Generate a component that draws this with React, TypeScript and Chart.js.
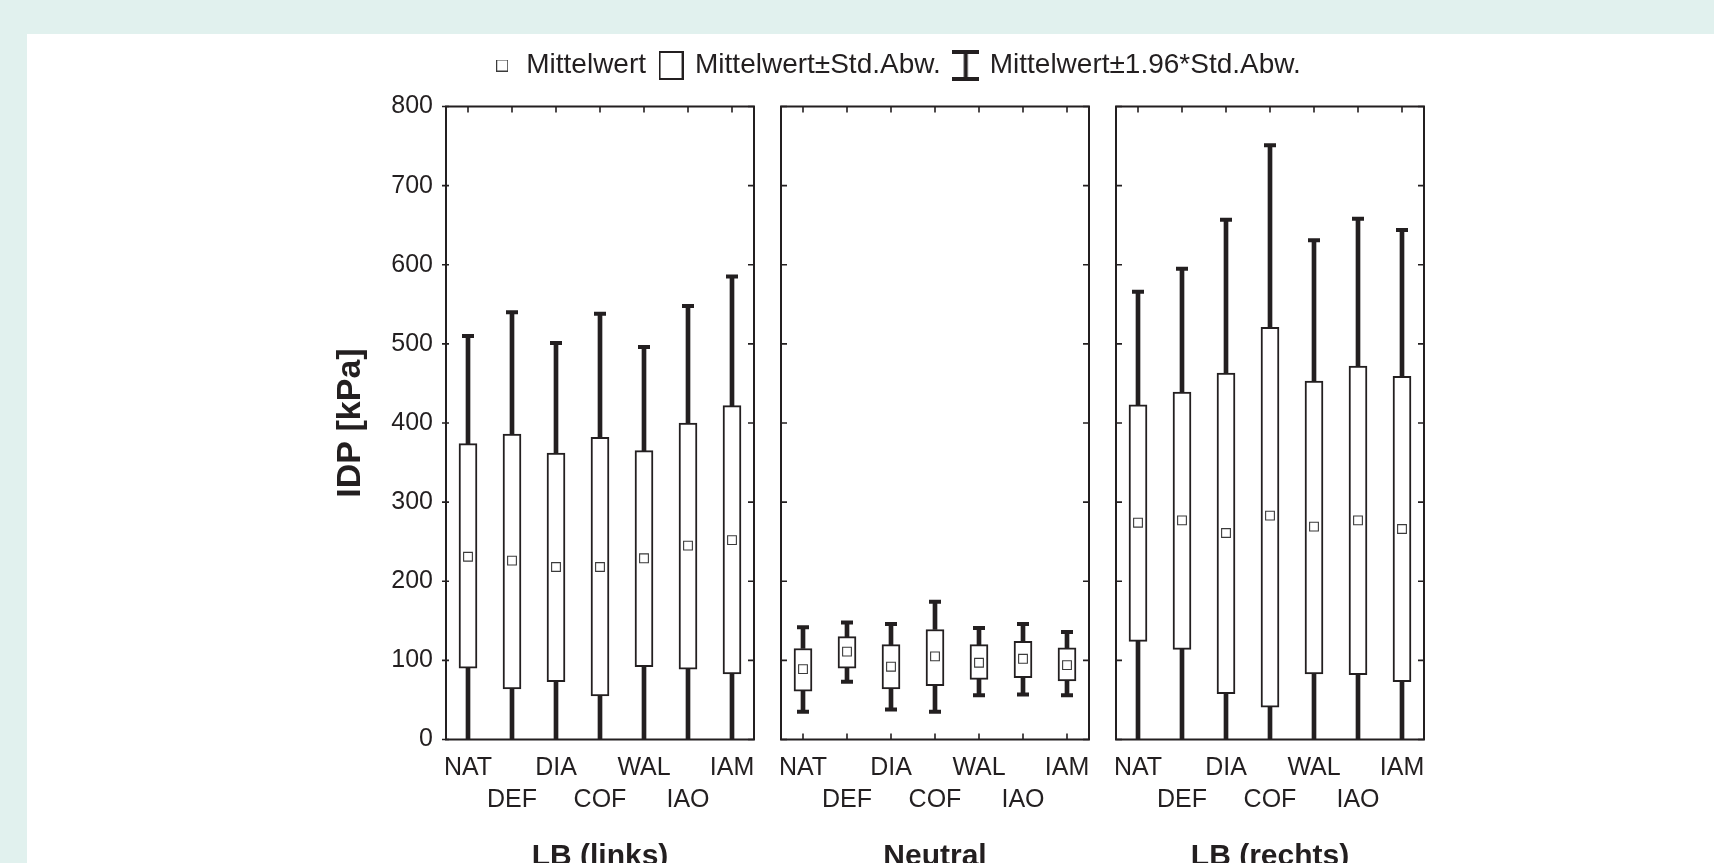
import React, { useEffect, useRef } from 'react';
import { Chart, registerables } from 'chart.js';

Chart.register(...registerables);

const FONT = "'Liberation Sans', Arial, Helvetica, sans-serif";
const INK = '#231f20';
const MEAN_EDGE = '#3a3a3a';

// ---- data ----
const categories = ['NAT', 'DEF', 'DIA', 'COF', 'WAL', 'IAO', 'IAM'];
const panelTitles = ['LB (links)', 'Neutral', 'LB (rechts)'];
const legendTexts = ['Mittelwert', 'Mittelwert±Std.Abw.', 'Mittelwert±1.96*Std.Abw.'];
const yTitle = 'IDP [kPa]';
const yMin = 0;
const yMax = 800;
const yStep = 100;

const leftMean = [231, 226, 218, 218, 229, 245, 252];
const leftSdLow = [90, 64, 73, 55, 92, 89, 83];
const leftSdHigh = [374, 386, 362, 382, 365, 400, 422];
const leftCiLow = [-47, -88, -65, -103, -39, -58, -80];
const leftCiHigh = [510, 540, 501, 538, 496, 548, 585];

const neutralMean = [89, 111, 92, 105, 97, 102, 94];
const neutralSdLow = [61, 90, 64, 68, 76, 78, 74];
const neutralSdHigh = [115, 130, 120, 139, 120, 124, 116];
const neutralCiLow = [35, 73, 38, 35, 56, 57, 56];
const neutralCiHigh = [142, 148, 146, 174, 141, 146, 136];

const rightMean = [274, 277, 261, 283, 269, 277, 266];
const rightSdLow = [124, 114, 58, 41, 83, 82, 73];
const rightSdHigh = [423, 439, 463, 521, 453, 472, 459];
const rightCiLow = [-17, -41, -136, -186, -93, -104, -112];
const rightCiHigh = [566, 595, 657, 751, 631, 658, 644];

const panelData = [
  { axis: 'x1', mean: leftMean, sdLow: leftSdLow, sdHigh: leftSdHigh, ciLow: leftCiLow, ciHigh: leftCiHigh },
  { axis: 'x2', mean: neutralMean, sdLow: neutralSdLow, sdHigh: neutralSdHigh, ciLow: neutralCiLow, ciHigh: neutralCiHigh },
  { axis: 'x3', mean: rightMean, sdLow: rightSdLow, sdHigh: rightSdHigh, ciLow: rightCiLow, ciHigh: rightCiHigh },
];

function makeIcon(w: number, h: number, draw: (g: CanvasRenderingContext2D) => void) {
  const c = document.createElement('canvas');
  c.width = w;
  c.height = h;
  const g = c.getContext('2d') as CanvasRenderingContext2D;
  draw(g);
  return c;
}

const panelFrame = {
  id: 'panelFrame',
  afterDatasetsDraw(chart: any) {
    const { ctx, chartArea } = chart;
    const ys = chart.scales.y;
    const t = chartArea.top;
    const b = chartArea.bottom;
    ctx.save();
    ctx.strokeStyle = INK;
    ['x1', 'x2', 'x3'].forEach((id, p) => {
      const s = chart.scales[id];
      const l = s.left;
      const r = s.right;
      ctx.lineWidth = 1.6;
      ctx.beginPath();
      ys.ticks.forEach((tk: any) => {
        const py = ys.getPixelForValue(tk.value);
        if (p === 0) {
          ctx.moveTo(l - 4, py);
          ctx.lineTo(l + 3, py);
        } else {
          ctx.moveTo(l, py);
          ctx.lineTo(l + 6, py);
        }
        ctx.moveTo(r - 6, py);
        ctx.lineTo(r, py);
      });
      s.ticks.forEach((_: any, i: number) => {
        const px = s.getPixelForTick(i);
        ctx.moveTo(px, t);
        ctx.lineTo(px, t + 6);
        ctx.moveTo(px, b - 6);
        ctx.lineTo(px, b);
      });
      ctx.stroke();
      ctx.lineWidth = 2;
      ctx.strokeRect(l, t, r - l, b - t);
    });
    ctx.restore();
  },
};

export default function App() {
  const ref = useRef<HTMLCanvasElement>(null);

  useEffect(() => {
    if (!ref.current) return;

    const iconMean = makeIcon(12, 12, (g) => {
      g.fillStyle = '#fff';
      g.fillRect(0, 0, 12, 12);
      g.strokeStyle = MEAN_EDGE;
      g.lineWidth = 1;
      g.strokeRect(0.5, 0.5, 11, 11);
    });
    const iconBox = makeIcon(25, 29, (g) => {
      g.fillStyle = '#fff';
      g.fillRect(0, 0, 25, 29);
      g.strokeStyle = INK;
      g.lineWidth = 2;
      g.strokeRect(1, 1, 23, 27);
    });
    const iconWhisker = makeIcon(27, 31, (g) => {
      g.fillStyle = INK;
      g.fillRect(0, 0, 27, 4);
      g.fillRect(0, 27, 27, 4);
      g.fillRect(11.5, 0, 4, 31);
    });

    const datasets: any[] = [];
    panelData.forEach((pd) => {
      datasets.push({
        type: 'line',
        label: 'mean ' + pd.axis,
        data: pd.mean,
        xAxisID: pd.axis,
        yAxisID: 'y',
        showLine: false,
        pointStyle: 'rect',
        pointRadius: 6.2,
        pointBorderWidth: 1.1,
        pointBorderColor: MEAN_EDGE,
        pointBackgroundColor: '#fff',
        order: 0,
        clip: 0,
      });
      datasets.push({
        type: 'line',
        label: 'cap high ' + pd.axis,
        data: pd.ciHigh,
        xAxisID: pd.axis,
        yAxisID: 'y',
        showLine: false,
        pointStyle: 'line',
        pointRadius: 6,
        pointBorderWidth: 4,
        pointBorderColor: INK,
        order: 1,
        clip: 0,
      });
      datasets.push({
        type: 'line',
        label: 'cap low ' + pd.axis,
        data: pd.ciLow,
        xAxisID: pd.axis,
        yAxisID: 'y',
        showLine: false,
        pointStyle: 'line',
        pointRadius: 6,
        pointBorderWidth: 4,
        pointBorderColor: INK,
        order: 1,
        clip: 0,
      });
      datasets.push({
        type: 'bar',
        label: 'sd ' + pd.axis,
        data: categories.map((_, i) => [pd.sdLow[i], pd.sdHigh[i]]),
        xAxisID: pd.axis,
        yAxisID: 'y',
        grouped: false,
        barThickness: 18,
        backgroundColor: '#fff',
        borderColor: INK,
        borderWidth: 2,
        borderSkipped: false,
        order: 2,
        clip: 0,
      });
      datasets.push({
        type: 'bar',
        label: 'ci low ' + pd.axis,
        data: categories.map((_, i) => [pd.ciLow[i], pd.sdLow[i]]),
        xAxisID: pd.axis,
        yAxisID: 'y',
        grouped: false,
        barThickness: 4,
        backgroundColor: INK,
        borderWidth: 0,
        order: 3,
        clip: 0,
      });
      datasets.push({
        type: 'bar',
        label: 'ci high ' + pd.axis,
        data: categories.map((_, i) => [pd.sdHigh[i], pd.ciHigh[i]]),
        xAxisID: pd.axis,
        yAxisID: 'y',
        grouped: false,
        barThickness: 4,
        backgroundColor: INK,
        borderWidth: 0,
        order: 3,
        clip: 0,
      });
    });

    const catAxis = (p: number) => ({
      type: 'category',
      axis: 'x',
      position: 'bottom',
      stack: 'panels',
      stackWeight: 308,
      offset: true,
      labels: categories,
      grid: { display: false, drawTicks: false, offset: true },
      border: { display: false },
      ticks: {
        autoSkip: false,
        maxRotation: 0,
        minRotation: 0,
        padding: 12.5,
        color: INK,
        font: { family: FONT, size: 25, lineHeight: 1.27 },
        callback: (_v: any, i: number) => (i % 2 ? ['', categories[i]] : categories[i]),
      },
      title: {
        display: true,
        text: panelTitles[p],
        color: INK,
        font: { family: FONT, size: 30, weight: 'bold', lineHeight: 1.2 },
        padding: { top: 11, bottom: 0 },
      },
    });
    const gapAxis = () => ({
      type: 'linear',
      axis: 'x',
      position: 'bottom',
      stack: 'panels',
      stackWeight: 27,
      display: true,
      ticks: { display: false },
      grid: { display: false, drawTicks: false },
      border: { display: false },
      title: { display: false },
    });

    const chart = new Chart(ref.current, {
      type: 'bar',
      data: { labels: categories, datasets },
      plugins: [panelFrame],
      options: {
        responsive: false,
        devicePixelRatio: 1,
        animation: false,
        events: [],
        layout: { autoPadding: false, padding: { top: 36.5, left: 330, right: 251, bottom: 5 } },
        plugins: {
          tooltip: { enabled: false },
          legend: {
            display: true,
            position: 'top',
            align: 'center',
            labels: {
              usePointStyle: true,
              pointStyleWidth: 20,
              padding: 15,
              color: INK,
              font: { family: FONT, size: 28 },
              generateLabels: () => [
                { text: legendTexts[0], pointStyle: iconMean, fontColor: INK, hidden: false, datasetIndex: 0, lineWidth: 0 },
                { text: legendTexts[1], pointStyle: iconBox, fontColor: INK, hidden: false, datasetIndex: 3, lineWidth: 0 },
                { text: legendTexts[2], pointStyle: iconWhisker, fontColor: INK, hidden: false, datasetIndex: 5, lineWidth: 0 },
              ],
            },
          },
        },
        scales: {
          y: {
            type: 'linear',
            position: 'left',
            min: yMin,
            max: yMax,
            ticks: { stepSize: yStep, padding: 13, color: INK, font: { family: FONT, size: 25 } },
            grid: { display: false, drawTicks: false },
            border: { display: false },
            title: {
              display: true,
              text: yTitle,
              color: INK,
              font: { family: FONT, size: 34, weight: 'bold', lineHeight: 1.2 },
              padding: 0,
            },
            afterFit: (s: any) => {
              s.width = 116;
            },
          },
          yr: {
            type: 'linear',
            axis: 'y',
            position: 'right',
            display: true,
            ticks: { display: false },
            grid: { display: false, drawTicks: false },
            border: { display: false },
            afterFit: (s: any) => {
              s.width = 39;
            },
          },
          xt: {
            type: 'linear',
            axis: 'x',
            position: 'top',
            display: true,
            ticks: { display: false },
            grid: { display: false, drawTicks: false },
            border: { display: false },
            afterFit: (s: any) => {
              s.height = 17;
            },
          },
          x1: catAxis(0),
          g1: gapAxis(),
          x2: catAxis(1),
          g2: gapAxis(),
          x3: catAxis(2),
        },
      } as any,
    } as any);

    return () => chart.destroy();
  }, []);

  return (
    <div style={{ position: 'fixed', inset: 0, background: '#e1f1ee', overflow: 'hidden' }}>
      <div style={{ position: 'absolute', left: 27, top: 34, right: 0, bottom: 0, background: '#ffffff' }} />
      <canvas
        ref={ref}
        width={1714}
        height={880}
        style={{ position: 'absolute', left: 0, top: 0, width: 1714, height: 880 }}
      />
    </div>
  );
}
